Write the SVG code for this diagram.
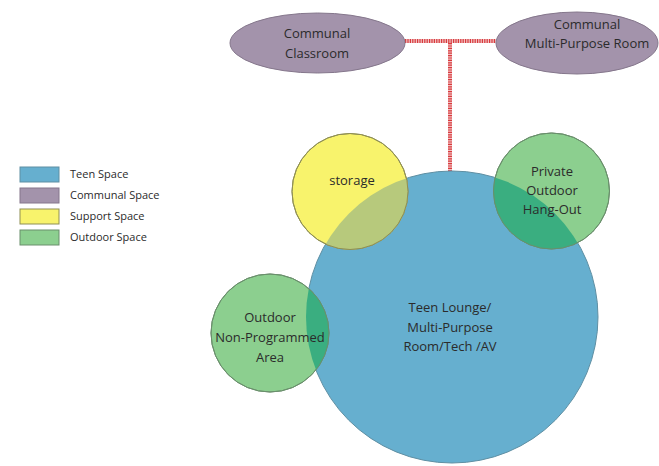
<svg xmlns="http://www.w3.org/2000/svg" width="659" height="466" viewBox="0 0 659 466">
<style>
text{font-family:"Open Sans","Liberation Sans",sans-serif;fill:#2b2b2b;text-anchor:middle;}
.n{font-size:13px;}
.lg{font-size:11px;text-anchor:start;}
.teen{fill:#66afcf;stroke:#5f8fa3;stroke-width:1;}
.comm{fill:#a393ab;stroke:#85778c;stroke-width:1;}
.sup{fill:#f8f36c;stroke:#8f8f55;stroke-width:1;}
.out{fill:#8ccf8f;stroke:#6a8f6c;stroke-width:1;}
.ov-y{fill:#b7c97c;}
.ov-g{fill:#3aae80;}
.connbg{stroke:#f2c2c2;stroke-width:4;fill:none;}
.conn{stroke:#d83a3e;stroke-width:4;stroke-dasharray:1.2 1.2;fill:none;}
</style>
<defs>
<clipPath id="bigclip"><circle cx="452" cy="317" r="146"/></clipPath>
</defs>
<rect width="659" height="466" fill="#fff"/>
<g id="connectors">
<path class="connbg" d="M405 41H496M450 43V172"/>
<path class="conn" d="M405 41H496"/>
<path class="conn" d="M450 43V172"/>
</g>
<g id="teen-lounge">
<circle class="teen" cx="452" cy="317" r="146"/>
</g>
<g id="storage">
<circle class="sup" cx="350" cy="191.5" r="58"/>
<circle class="ov-y" cx="350" cy="191.5" r="58" clip-path="url(#bigclip)"/>
<circle cx="350" cy="191.5" r="58" fill="none" stroke="#8f8f55" stroke-width="1"/>
<text class="n" x="352" y="184.5">storage</text>
</g>
<g id="private-outdoor">
<circle class="out" cx="551.5" cy="191" r="58"/>
<circle class="ov-g" cx="551.5" cy="191" r="58" clip-path="url(#bigclip)"/>
<circle cx="551.5" cy="191" r="58" fill="none" stroke="#6a8f6c" stroke-width="1"/>
<text class="n" x="552" y="175.5">Private</text>
<text class="n" x="552" y="194.5">Outdoor</text>
<text class="n" x="552" y="213.5">Hang-Out</text>
</g>
<g id="outdoor-nonprogrammed">
<circle class="out" cx="270" cy="333" r="59"/>
<circle class="ov-g" cx="270" cy="333" r="59" clip-path="url(#bigclip)"/>
<circle cx="270" cy="333" r="59" fill="none" stroke="#6a8f6c" stroke-width="1"/>
<text class="n" x="270" y="321.5">Outdoor</text>
<text class="n" x="270" y="341.5">Non-Programmed</text>
<text class="n" x="270" y="361.5">Area</text>
</g>
<g id="teen-label">
<text class="n" x="450" y="311.5">Teen Lounge/</text>
<text class="n" x="450" y="331.5">Multi-Purpose</text>
<text class="n" x="450" y="350.5">Room/Tech /AV</text>
</g>
<g id="communal-classroom">
<ellipse class="comm" cx="317.5" cy="43" rx="87.5" ry="30"/>
<text class="n" x="317" y="37.5">Communal</text>
<text class="n" x="317" y="57.5">Classroom</text>
</g>
<g id="communal-mpr">
<ellipse class="comm" cx="577" cy="43" rx="81" ry="31"/>
<text class="n" x="587" y="28.5">Communal</text>
<text class="n" x="587" y="47.5">Multi-Purpose Room</text>
</g>
<g id="legend">
<rect class="teen" x="20" y="167" width="39" height="15"/>
<rect class="comm" x="20" y="188" width="39" height="15"/>
<rect class="sup" x="20" y="209" width="39" height="15"/>
<rect class="out" x="20" y="230" width="39" height="15"/>
<text class="lg" x="70" y="177.5">Teen Space</text>
<text class="lg" x="70" y="198.5">Communal Space</text>
<text class="lg" x="70" y="219.5">Support Space</text>
<text class="lg" x="70" y="240.5">Outdoor Space</text>
</g>
</svg>
